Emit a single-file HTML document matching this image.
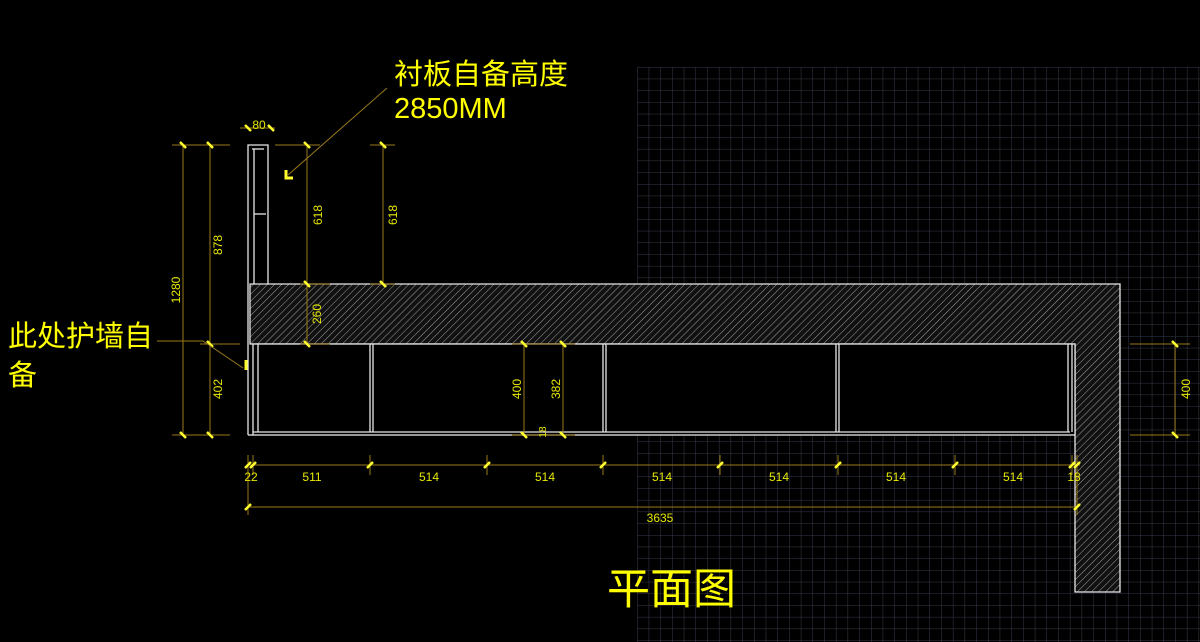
<!DOCTYPE html>
<html><head><meta charset="utf-8"><style>
html,body{margin:0;padding:0;background:#000;width:1200px;height:642px;overflow:hidden}
svg{display:block}
.d{stroke:#9a7a1a;stroke-width:1;fill:none}
.t{fill:#e8e800;font-family:"Liberation Sans",sans-serif;font-size:12px}
.w{stroke:#e8e8e8;stroke-width:1.3}
.k{stroke:#ffff30;stroke-width:2.5}
</style></head><body>
<svg width="1200" height="642" viewBox="0 0 1200 642">
<defs>
<pattern id="g" x="637" y="67" width="11.7" height="11.7" patternUnits="userSpaceOnUse">
<path d="M0 0H11.7M0 0V11.7" stroke="#3a3a4c" stroke-width="1"/>
</pattern>
<pattern id="h" width="5" height="5" patternUnits="userSpaceOnUse" patternTransform="rotate(45)">
<rect width="5" height="5" fill="#111"/>
<line x1="0" y1="0" x2="0" y2="5" stroke="#a0a0a0" stroke-width="1"/>
</pattern>
</defs>
<rect x="637" y="67" width="563" height="575" fill="url(#g)"/>
<!-- wall -->
<path d="M250 284H1120V592H1075V344H250Z" style="fill:url(#h)" class="w"/>
<!-- left panel -->
<path d="M248 435V145H268V284" class="w" fill="none"/>
<line x1="252" y1="149" x2="264" y2="149" class="w"/><line x1="254" y1="149" x2="254" y2="284" class="w"/>
<line x1="254" y1="214" x2="266" y2="214" class="w"/>
<!-- cabinet -->
<rect x="253" y="344" width="822" height="91" style="fill:#000" class="w"/>
<line x1="248" y1="435" x2="253" y2="435" class="w"/>
<line x1="253" y1="432" x2="1070" y2="432" class="w"/>
<line x1="258" y1="344" x2="258" y2="432" class="w"/>
<path d="M370 344V432M373 344V432M603 344V432M606 344V432M836 344V432M839 344V432M1068 344V432M1072 344V432" class="w" fill="none"/>
<!-- vertical dims -->
<path d="M183 145V435M210 145V435M307 145V344M383 145V284M524 344V435M563 344V435M1175 344V435" class="d"/>
<path d="M172 145H230M172 435H230M200 344H240M275 145H320M370 145H395M300 284H330M370 284H395M300 344H330M512 344H575M512 435H575M1130 344H1190M1130 435H1190M240 128H275" class="d"/>
<g class="k">
<path d="M180 142l6 6M180 432l6 6M207 142l6 6M207 341l6 6M207 432l6 6M304 142l6 6M304 281l6 6M304 341l6 6M380 142l6 6M380 281l6 6M521 341l6 6M521 432l6 6M560 341l6 6M560 432l6 6M1172 341l6 6M1172 432l6 6M245 125l6 6M268 125l6 6"/>
</g>
<g class="t">
<text transform="translate(180 290) rotate(-90)" text-anchor="middle">1280</text>
<text transform="translate(222 245) rotate(-90)" text-anchor="middle">878</text>
<text transform="translate(222 389) rotate(-90)" text-anchor="middle">402</text>
<text transform="translate(322 215) rotate(-90)" text-anchor="middle">618</text>
<text transform="translate(397 215) rotate(-90)" text-anchor="middle">618</text>
<text transform="translate(321 314) rotate(-90)" text-anchor="middle">260</text>
<text transform="translate(521 389) rotate(-90)" text-anchor="middle">400</text>
<text transform="translate(560 389) rotate(-90)" text-anchor="middle">382</text>
<text transform="translate(546 432) rotate(-90)" text-anchor="middle" font-size="10">18</text>
<text transform="translate(1190 389) rotate(-90)" text-anchor="middle">400</text>
<text x="259" y="129" text-anchor="middle">80</text>
</g>
<!-- horizontal dims -->
<path d="M248 465H1080M248 507H1078M248 455V515M253 455V475M370 455V475M487 455V475M603 455V475M720 455V475M838 455V475M955 455V475M1072 455V475M1077 455V515" class="d"/>
<g class="k"><path d="M245 468l6 -6M250 468l6 -6M367 468l6 -6M484 468l6 -6M600 468l6 -6M717 468l6 -6M835 468l6 -6M952 468l6 -6M1069 468l6 -6M1074 468l6 -6M245 510l6 -6M1074 510l6 -6"/></g>
<g class="t" text-anchor="middle">
<text x="251" y="481">22</text><text x="312" y="481">511</text><text x="429" y="481">514</text>
<text x="545" y="481">514</text><text x="662" y="481">514</text><text x="779" y="481">514</text>
<text x="896" y="481">514</text><text x="1013" y="481">514</text><text x="1074" y="481">18</text>
<text x="660" y="522">3635</text>
</g>
<!-- leaders -->
<path d="M387 88L288 175M157 341H203L243 368" stroke="#9a7a1a" fill="none"/>
<path d="M286 170V178H293M246 360V370" stroke="#ffff30" stroke-width="3" fill="none"/>
<g fill="#ffff00" font-family="'Liberation Sans','Noto Sans CJK SC',sans-serif" font-size="29">
<text x="394" y="84">衬板自备高度</text>
<text x="394" y="118">2850MM</text>
<text x="8" y="346">此处护墙自</text>
<text x="8" y="385">备</text>
<text x="607" y="604" font-size="43">平面图</text>
</g>
</svg>
</body></html>
